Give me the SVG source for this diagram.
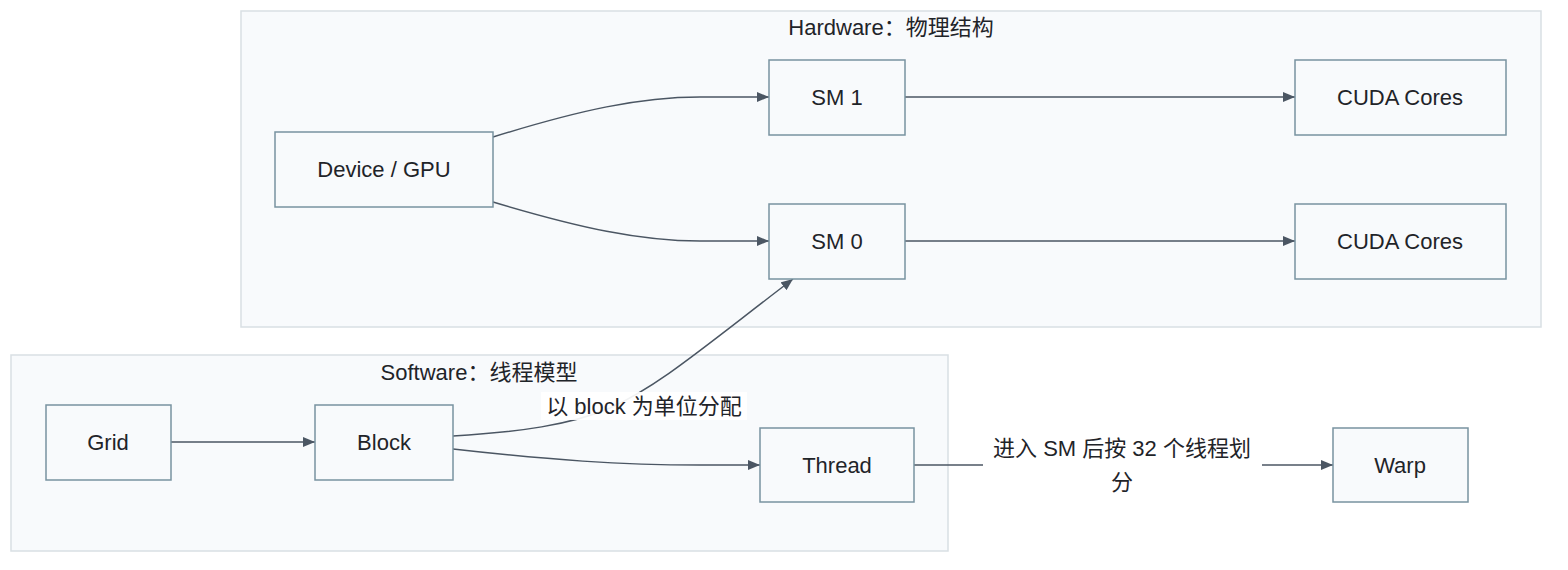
<svg xmlns="http://www.w3.org/2000/svg" width="1568" height="570" viewBox="0 0 1568 570">
<style>
.cluster{fill:#f8fafc;stroke:#d9dfe4;stroke-width:1.5}
.node rect{fill:#f8fafc;stroke:#7893a0;stroke-width:1.5}
text{font-family:"Liberation Sans","Noto Sans CJK SC",Arial,sans-serif;font-size:22px;fill:#1f2429;text-anchor:middle;dominant-baseline:central}
.edge{fill:none;stroke:#4b5663;stroke-width:1.5}
.lblbg{fill:#ffffff}
</style>
<defs>
<marker id="arrow" viewBox="0 0 12 10" refX="12" refY="5" markerWidth="12" markerHeight="10" markerUnits="userSpaceOnUse" orient="auto">
<path d="M0,0 L12,5 L0,10 Z" fill="#4b5663"/>
</marker>
</defs>
<rect width="1568" height="570" fill="#ffffff"/>
<g id="cluster-hardware">
<rect class="cluster" x="241" y="11" width="1300" height="316"/>
<text x="891" y="27">Hardware：物理结构</text>
</g>
<g id="cluster-software">
<rect class="cluster" x="11" y="355" width="937" height="196"/>
<text x="479" y="372">Software：线程模型</text>
</g>
<g id="connectors">
<path class="edge" d="M493,137 C580,110 640,97 700,97 L769,97" marker-end="url(#arrow)"/>
<path class="edge" d="M493,202 C580,228 640,241 700,241 L769,241" marker-end="url(#arrow)"/>
<path class="edge" d="M905,97 L1295,97" marker-end="url(#arrow)"/>
<path class="edge" d="M905,241 L1295,241" marker-end="url(#arrow)"/>
<path class="edge" d="M171,442 L315,442" marker-end="url(#arrow)"/>
<path class="edge" d="M453,436 C520,432 570,425 610,408 C660,385 700,350 793,279" marker-end="url(#arrow)"/>
<path class="edge" d="M453,449 C550,460 620,465 700,465 L760,465" marker-end="url(#arrow)"/>
<path class="edge" d="M914,465 L1333,465" marker-end="url(#arrow)"/>
<g id="label-block-sm0">
<rect class="lblbg" x="541" y="392" width="206" height="28" opacity="0.92"/>
<text x="644" y="406">以 block 为单位分配</text>
</g>
<g id="label-thread-warp">
<rect class="lblbg" x="983" y="430" width="279" height="70"/>
<text x="1122" y="448">进入 SM 后按 32 个线程划</text>
<text x="1122" y="482">分</text>
</g>
</g>
<g id="node-device" class="node">
<rect x="275" y="132" width="218" height="75"/>
<text x="384" y="169">Device / GPU</text>
</g>
<g id="node-sm1" class="node">
<rect x="769" y="60" width="136" height="75"/>
<text x="837" y="97">SM 1</text>
</g>
<g id="node-sm0" class="node">
<rect x="769" y="204" width="136" height="75"/>
<text x="837" y="241">SM 0</text>
</g>
<g id="node-cores1" class="node">
<rect x="1295" y="60" width="211" height="75"/>
<text x="1400" y="97">CUDA Cores</text>
</g>
<g id="node-cores0" class="node">
<rect x="1295" y="204" width="211" height="75"/>
<text x="1400" y="241">CUDA Cores</text>
</g>
<g id="node-grid" class="node">
<rect x="46" y="405" width="125" height="75"/>
<text x="108" y="442">Grid</text>
</g>
<g id="node-block" class="node">
<rect x="315" y="405" width="138" height="75"/>
<text x="384" y="442">Block</text>
</g>
<g id="node-thread" class="node">
<rect x="760" y="428" width="154" height="74"/>
<text x="837" y="465">Thread</text>
</g>
<g id="node-warp" class="node">
<rect x="1333" y="428" width="135" height="74"/>
<text x="1400" y="465">Warp</text>
</g>
</svg>
